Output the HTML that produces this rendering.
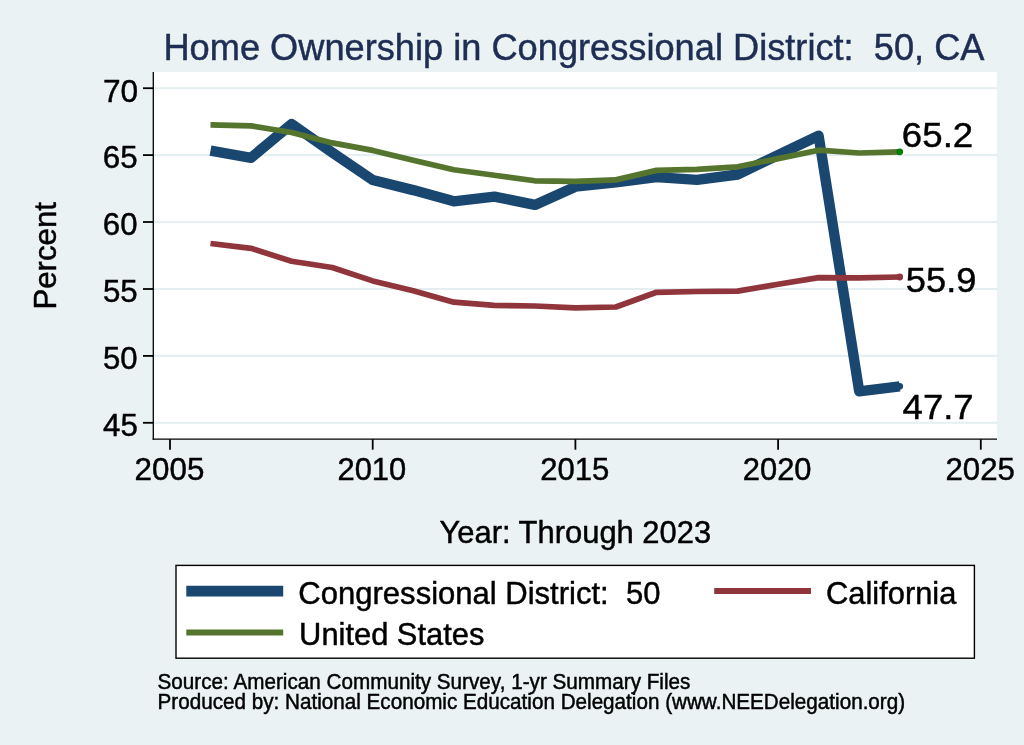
<!DOCTYPE html>
<html><head><meta charset="utf-8"><title>Home Ownership in Congressional District: 50, CA</title>
<style>
html,body{margin:0;padding:0;background:#eaf2f3;}
body{width:1024px;height:745px;overflow:hidden;}
svg{display:block;}
text{font-family:"Liberation Sans",Arial,Helvetica,sans-serif;fill:#000;stroke:#000;stroke-width:0.45px;white-space:pre;}
text.ttl{fill:#1e2d53;stroke:#1e2d53;}
</style></head><body>
<svg width="1024" height="745" viewBox="0 0 1024 745">
<rect x="0" y="0" width="1024" height="745" fill="#eaf2f3"/>
<rect x="153" y="72" width="844" height="367" fill="#fff"/>
<line x1="153" x2="997" y1="88.2" y2="88.2" stroke="#e5eef1" stroke-width="2.1"/>
<line x1="153" x2="997" y1="155.1" y2="155.1" stroke="#e5eef1" stroke-width="2.1"/>
<line x1="153" x2="997" y1="222.0" y2="222.0" stroke="#e5eef1" stroke-width="2.1"/>
<line x1="153" x2="997" y1="289.0" y2="289.0" stroke="#e5eef1" stroke-width="2.1"/>
<line x1="153" x2="997" y1="355.9" y2="355.9" stroke="#e5eef1" stroke-width="2.1"/>
<line x1="153" x2="997" y1="422.8" y2="422.8" stroke="#e5eef1" stroke-width="2.1"/>
<polyline points="210.5,150.6 251.1,157.8 291.6,124.1 332.2,152.4 372.7,180.0 413.2,190.1 453.8,201.3 494.3,196.6 534.9,204.9 575.4,186.7 615.9,182.4 656.5,177.1 697.0,179.9 737.6,174.5 818.6,135.7 859.2,391.3 899.7,386.3" fill="none" stroke="#1a476f" stroke-width="10.4" stroke-linejoin="round" stroke-linecap="butt"/>
<polyline points="210.5,243.5 251.1,248.3 291.6,261.3 332.2,267.5 372.7,280.9 413.2,290.7 453.8,302.2 494.3,305.3 534.9,306.0 575.4,307.8 615.9,307.0 656.5,292.3 697.0,291.5 737.6,291.1 778.1,284.3 818.6,277.6 859.2,277.9 899.7,277.0" fill="none" stroke="#90353b" stroke-width="5.7" stroke-linejoin="round"/>
<polyline points="210.5,124.9 251.1,125.9 291.6,132.5 332.2,142.9 372.7,150.4 413.2,160.3 453.8,169.7 494.3,175.2 534.9,180.8 575.4,181.4 615.9,179.9 656.5,170.4 697.0,169.4 737.6,166.8 778.1,158.6 818.6,150.2 859.2,153.0 899.7,151.8" fill="none" stroke="#55752f" stroke-width="5.7" stroke-linejoin="round"/>
<circle cx="899.7" cy="386.3" r="3.4" fill="#1a476f"/>
<circle cx="899.7" cy="277.0" r="3.4" fill="#90353b"/>
<circle cx="899.7" cy="151.8" r="3.4" fill="#008000"/>
<line x1="153.3" x2="153.3" y1="72" y2="439.85" stroke="#000" stroke-width="1.3"/>
<line x1="152.65" x2="997" y1="439.15" y2="439.15" stroke="#000" stroke-width="1.4"/>
<line x1="143" x2="153.3" y1="88.2" y2="88.2" stroke="#000" stroke-width="1.8"/>
<line x1="143" x2="153.3" y1="155.1" y2="155.1" stroke="#000" stroke-width="1.8"/>
<line x1="143" x2="153.3" y1="222.0" y2="222.0" stroke="#000" stroke-width="1.8"/>
<line x1="143" x2="153.3" y1="289.0" y2="289.0" stroke="#000" stroke-width="1.8"/>
<line x1="143" x2="153.3" y1="355.9" y2="355.9" stroke="#000" stroke-width="1.8"/>
<line x1="143" x2="153.3" y1="422.8" y2="422.8" stroke="#000" stroke-width="1.8"/>
<line x1="170.0" x2="170.0" y1="439.2" y2="449.7" stroke="#000" stroke-width="1.8"/>
<line x1="372.7" x2="372.7" y1="439.2" y2="449.7" stroke="#000" stroke-width="1.8"/>
<line x1="575.4" x2="575.4" y1="439.2" y2="449.7" stroke="#000" stroke-width="1.8"/>
<line x1="778.1" x2="778.1" y1="439.2" y2="449.7" stroke="#000" stroke-width="1.8"/>
<line x1="980.8" x2="980.8" y1="439.2" y2="449.7" stroke="#000" stroke-width="1.8"/>
<text transform="translate(102.91,101.50) scale(1.02,1.03)" font-size="31.04" xml:space="preserve">70</text>
<text transform="translate(102.82,168.42) scale(1.0087,1.03)" font-size="31.04" xml:space="preserve">65</text>
<text transform="translate(102.82,235.34) scale(1.0052,1.03)" font-size="31.04" xml:space="preserve">60</text>
<text transform="translate(102.88,302.26) scale(1.0073,1.03)" font-size="31.04" xml:space="preserve">55</text>
<text transform="translate(102.90,369.18) scale(1.0034,1.03)" font-size="31.04" xml:space="preserve">50</text>
<text transform="translate(103.04,436.10) scale(1.0085,1.03)" font-size="31.04" xml:space="preserve">45</text>
<text transform="translate(134.61,479.65) scale(1.0099,1.01)" font-size="31.04" xml:space="preserve">2005</text>
<text transform="translate(337.46,479.65) scale(0.997,1.01)" font-size="31.04" xml:space="preserve">2010</text>
<text transform="translate(540.14,479.65) scale(1.0015,1.01)" font-size="31.04" xml:space="preserve">2015</text>
<text transform="translate(742.84,479.65) scale(0.9955,1.01)" font-size="31.04" xml:space="preserve">2020</text>
<text transform="translate(945.41,479.65) scale(1.007,1.01)" font-size="31.04" xml:space="preserve">2025</text>
<text transform="translate(901.87,146.75) scale(1.013,0.975)" font-size="36.2" xml:space="preserve">65.2</text>
<text transform="translate(905.84,292.20) scale(1.0013,0.975)" font-size="36.2" xml:space="preserve">55.9</text>
<text transform="translate(902.59,419.10) scale(1.0093,0.985)" font-size="36.2" xml:space="preserve">47.7</text>
<text transform="translate(163.45,60.10) scale(1.0003,1.03)" font-size="36.2" class="ttl" xml:space="preserve">Home Ownership in Congressional District:  50, CA</text>
<text transform="translate(56.3,309.60) rotate(-90) scale(1.0054,1.04)" font-size="31.04">Percent</text>
<text transform="translate(439.55,543.10) scale(0.9964,1.03)" font-size="31.04" xml:space="preserve">Year: Through 2023</text>
<rect x="176" y="565.4" width="798.4" height="92.8" fill="#fff" stroke="#000" stroke-width="1.4"/>
<line x1="186.3" x2="283.2" y1="591.2" y2="591.2" stroke="#1a476f" stroke-width="10.7"/>
<line x1="186.3" x2="283.2" y1="632.4" y2="632.4" stroke="#55752f" stroke-width="6"/>
<line x1="714.2" x2="811" y1="590.9" y2="590.9" stroke="#90353b" stroke-width="6"/>
<text transform="translate(298.36,603.70) scale(0.9996,1.03)" font-size="31.04" xml:space="preserve">Congressional District:  50</text>
<text transform="translate(299.12,644.60) scale(0.9944,1.03)" font-size="31.04" xml:space="preserve">United States</text>
<text transform="translate(826.10,603.90) scale(0.9938,1.03)" font-size="31.04" xml:space="preserve">California</text>
<text transform="translate(157.51,689.10) scale(0.9995,1.03)" font-size="20.7" xml:space="preserve">Source: American Community Survey, 1-yr Summary Files</text>
<text transform="translate(157.57,708.70) scale(0.9987,1.03)" font-size="20.7" xml:space="preserve">Produced by: National Economic Education Delegation (www.NEEDelegation.org)</text>
</svg>
</body></html>
